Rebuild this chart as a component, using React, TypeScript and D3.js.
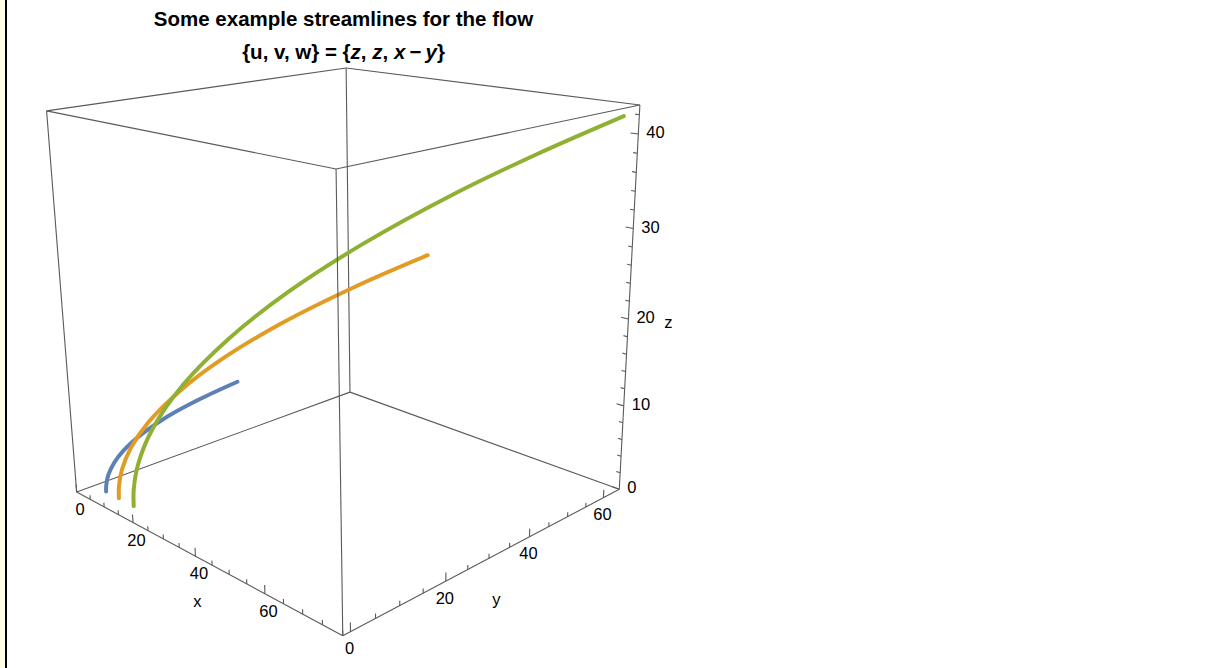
import * as d3 from 'd3';

// plot range of the box
const xDomain = [0, 80];
const yDomain = [-1.5, 64.6];
const zDomain = [0, 43];

const xTicks = [0, 20, 40, 60];
const yTicks = [0, 20, 40, 60];
const zTicks = [0, 10, 20, 30, 40];
const xMinorStep = 5;
const yMinorStep = 5;
const zMinorStep = 2;

// streamline samples, [x, y, z]
const blueLine = [
  [4.2, 2.2, 0], [4.3, 2.28, 0.8], [4.7, 2.6, 2], [5.7, 3.4, 3.5], [7.2, 4.7, 5],
  [10.1, 7.1, 7], [13.8, 10.3, 9], [18.5, 14.3, 11], [24, 19, 13],
];
const orangeLine = [
  [8.8, 2.2, 0], [8.93, 2.32, 1.5], [9.5, 2.85, 3.5], [10.9, 4.1, 6], [13.5, 6.5, 9],
  [17.9, 10.5, 12.5], [23.6, 15.8, 16], [31.9, 23.4, 20], [42, 32.75, 24], [51.3, 41.5, 27.2],
];
const greenLine = [
  [14, 2.2, 0], [14.15, 2.34, 2], [14.95, 3.1, 5], [17.1, 5.1, 9], [21.4, 9.2, 14],
  [27.5, 15, 19], [35.3, 22.5, 24], [44.9, 31.7, 29], [56.2, 42.6, 34], [66.6, 52.7, 38],
  [77.5, 63.4, 41.8],
];
const seriesColors = ['#5e81b5', '#e19c24', '#8fb032'];

// camera calibration: where the unit cube corners land on screen
const cubeCorners = [
  [0, 0, 0], [1, 0, 0], [1, 1, 0], [0, 1, 0],
  [0, 0, 1], [1, 0, 1], [1, 1, 1], [0, 1, 1],
];
const cornerScreen = [
  [76.7, 492.3], [342.7, 635.7], [619.3, 489.3], [350, 392],
  [46.7, 110.7], [336, 169], [640, 105], [346, 68],
];

function solveLinear(A: number[][], b: number[]): number[] {
  const n = b.length;
  const M = A.map((row, i) => [...row, b[i]]);
  for (let c = 0; c < n; c++) {
    let p = c;
    for (let r = c + 1; r < n; r++) if (Math.abs(M[r][c]) > Math.abs(M[p][c])) p = r;
    [M[c], M[p]] = [M[p], M[c]];
    for (let r = 0; r < n; r++) {
      if (r === c) continue;
      const f = M[r][c] / M[c][c];
      for (let k = c; k <= n; k++) M[r][k] -= f * M[c][k];
    }
  }
  return M.map((row, i) => row[n] / row[i]);
}

// least squares fit of a 3x4 projective camera (DLT)
function fitCamera(): number[] {
  const N = Array.from({ length: 11 }, () => Array(11).fill(0));
  const r = Array(11).fill(0);
  cubeCorners.forEach(([X, Y, Z], i) => {
    const [u, v] = cornerScreen[i];
    const rows = [
      [X, Y, Z, 1, 0, 0, 0, 0, -u * X, -u * Y, -u * Z, u],
      [0, 0, 0, 0, X, Y, Z, 1, -v * X, -v * Y, -v * Z, v],
    ];
    rows.forEach(row => {
      for (let a = 0; a < 11; a++) {
        r[a] += row[a] * row[11];
        for (let b = 0; b < 11; b++) N[a][b] += row[a] * row[b];
      }
    });
  });
  return solveLinear(N, r);
}

const cam = fitCamera();
const sx = d3.scaleLinear().domain(xDomain).range([0, 1]);
const sy = d3.scaleLinear().domain(yDomain).range([0, 1]);
const sz = d3.scaleLinear().domain(zDomain).range([0, 1]);

function project(x: number, y: number, z: number): [number, number] {
  const X = sx(x), Y = sy(y), Z = sz(z);
  const d = cam[8] * X + cam[9] * Y + cam[10] * Z + 1;
  return [
    (cam[0] * X + cam[1] * Y + cam[2] * Z + cam[3]) / d,
    (cam[4] * X + cam[5] * Y + cam[6] * Z + cam[7]) / d,
  ];
}

const [x0, x1] = xDomain;
const [y0, y1] = yDomain;
const [z0, z1] = zDomain;

const boxEdges: number[][][] = [
  // back edges (meeting at the far corner)
  [[x0, y1, z0], [x0, y0, z0]],
  [[x0, y1, z0], [x1, y1, z0]],
  [[x0, y1, z0], [x0, y1, z1]],
  // the rest
  [[x0, y0, z0], [x1, y0, z0]],
  [[x1, y0, z0], [x1, y1, z0]],
  [[x0, y0, z0], [x0, y0, z1]],
  [[x1, y1, z0], [x1, y1, z1]],
  [[x0, y0, z1], [x1, y0, z1]],
  [[x1, y0, z1], [x1, y1, z1]],
  [[x1, y1, z1], [x0, y1, z1]],
  [[x0, y1, z1], [x0, y0, z1]],
];
const frontEdge = [[x1, y0, z0], [x1, y0, z1]];

const line = d3.line<[number, number]>().curve(d3.curveCatmullRom.alpha(0.5));

const edgeColor = '#5a5a5a';
const font = "'Liberation Sans', Arial, sans-serif";

function Segment({ a, b }: { a: number[]; b: number[] }) {
  const p = project(a[0], a[1], a[2]);
  const q = project(b[0], b[1], b[2]);
  return <line x1={p[0]} y1={p[1]} x2={q[0]} y2={q[1]} stroke={edgeColor} strokeWidth={1.1} />;
}

export default function App() {
  const majorLen = 0.022;
  const minorLen = 0.012;
  const zr = z1 - z0;
  const xr = x1 - x0;

  const xMinor = d3.range(x0, x1 + 1e-9, xMinorStep).filter(v => !xTicks.includes(v));
  const yMinor = d3.range(0, y1 + 1e-9, yMinorStep).filter(v => !yTicks.includes(v));
  const zMinor = d3.range(z0, z1 + 1e-9, zMinorStep).filter(v => !zTicks.includes(v));

  const tick = (a: number[], b: number[], key: string) => <Segment key={key} a={a} b={b} />;

  return (
    <div style={{ position: 'fixed', left: 0, top: 0 }}>
      <svg width={1232} height={668} style={{ display: 'block', background: '#fff' }} fontFamily={font}>
        <rect x={0} y={0} width={5} height={668} fill="#fffde4" />
        <rect x={5} y={0} width={2} height={668} fill="#000" />

        <text x={343.5} y={26} textAnchor="middle" fontSize={20.5} fontWeight="bold">
          Some example streamlines for the flow
        </text>
        <text x={343.5} y={59} textAnchor="middle" fontSize={20.5} fontWeight="bold">
          {'{u, v, w} = {'}
          <tspan fontStyle="italic">z</tspan>
          {', '}
          <tspan fontStyle="italic">z</tspan>
          {', '}
          <tspan fontStyle="italic">x</tspan>
          {'\u2009\u2212\u2009'}
          <tspan fontStyle="italic">y</tspan>
          {'}'}
        </text>

        <g>
          {boxEdges.map((e, i) => <Segment key={'e' + i} a={e[0]} b={e[1]} />)}
        </g>

        {/* ticks */}
        <g>
          {xTicks.map(v => tick([v, y0, z0], [v, y0, z0 + majorLen * zr], 'xt' + v))}
          {xMinor.map(v => tick([v, y0, z0], [v, y0, z0 + minorLen * zr], 'xm' + v))}
          {yTicks.map(v => tick([x1, v, z0], [x1, v, z0 + majorLen * zr], 'yt' + v))}
          {yMinor.map(v => tick([x1, v, z0], [x1, v, z0 + minorLen * zr], 'ym' + v))}
          {zTicks.map(v => tick([x1, y1, v], [x1 - majorLen * xr, y1, v], 'zt' + v))}
          {zMinor.map(v => tick([x1, y1, v], [x1 - minorLen * xr, y1, v], 'zm' + v))}
        </g>

        {/* tick labels */}
        <g fontSize={16.5} fill="#000">
          {xTicks.map(v => {
            const [px, py] = project(v, y0, z0);
            return (
              <text key={'xl' + v} x={px + 3.5} y={py + 17} textAnchor="middle" dominantBaseline="central">
                {v}
              </text>
            );
          })}
          {yTicks.map(v => {
            const [px, py] = project(x1, v, z0);
            return (
              <text key={'yl' + v} x={px - 1} y={py + 16.5} textAnchor="middle" dominantBaseline="central">
                {v}
              </text>
            );
          })}
          {zTicks.map(v => {
            const [px, py] = project(x1, y1, v);
            return (
              <text key={'zl' + v} x={px + 8} y={py - 2} textAnchor="start" dominantBaseline="central">
                {v}
              </text>
            );
          })}
          {(() => {
            const [ax, ay] = project(40, y0, z0);
            const [bx, by] = project(x1, 32, z0);
            const [cx, cy] = project(x1, y1, 20);
            return (
              <>
                <text x={ax + 2} y={ay + 45} textAnchor="middle" dominantBaseline="central">x</text>
                <text x={bx - 1} y={by + 45} textAnchor="middle" dominantBaseline="central">y</text>
                <text x={cx + 40} y={cy + 3} textAnchor="middle" dominantBaseline="central">z</text>
              </>
            );
          })()}
        </g>

        {/* streamlines */}
        <g fill="none" strokeWidth={4} strokeLinecap="round" strokeLinejoin="round">
          {[blueLine, orangeLine, greenLine].map((pts, i) => (
            <path
              key={'s' + i}
              d={line(pts.map(p => project(p[0], p[1], p[2]))) || ''}
              stroke={seriesColors[i]}
            />
          ))}
        </g>

        <Segment a={frontEdge[0]} b={frontEdge[1]} />
      </svg>
    </div>
  );
}
